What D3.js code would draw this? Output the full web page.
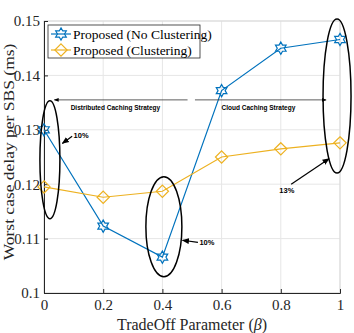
<!DOCTYPE html>
<html>
<head>
<meta charset="utf-8">
<script src="https://cdn.jsdelivr.net/npm/d3@7/dist/d3.min.js"></script>
<style>
body { margin: 0; background: #fff; }
svg { display: block; }
</style>
</head>
<body>
<div id="chart"></div>
<script>
// values
const betaValues = [0, 0.2, 0.4, 0.6, 0.8, 1];
const noClustering = [0.1300, 0.1123, 0.1066, 0.1372, 0.1450, 0.1466];
const clustering = [0.1195, 0.1176, 0.1187, 0.1250, 0.1265, 0.1276];
const xTicks = [0, 0.2, 0.4, 0.6, 0.8, 1];
const yTicks = [0.1, 0.11, 0.12, 0.13, 0.14, 0.15];
const seriesNames = ["Proposed (No Clustering)", "Proposed (Clustering)"];

const W = 354, H = 333;
const margin = { top: 21, right: 14, bottom: 40, left: 44 };
const width = W - margin.left - margin.right;
const height = H - margin.top - margin.bottom;

const blue = "#0072BD", yellow = "#EDB120";
const serif = "'Liberation Serif', 'Times New Roman', serif";
const sans = "'Liberation Sans', Arial, sans-serif";

const svg = d3.select("#chart").append("svg")
    .attr("width", W).attr("height", H);

const defs = svg.append("defs");
defs.append("marker")
    .attr("id", "arrow")
    .attr("viewBox", "0 0 10 10")
    .attr("refX", 9).attr("refY", 5)
    .attr("markerWidth", 6).attr("markerHeight", 6)
    .attr("orient", "auto-start-reverse")
    .append("path").attr("d", "M0,1 L10,5 L0,9 Z").attr("fill", "#000");

const g = svg.append("g").attr("transform", `translate(${margin.left},${margin.top})`);

const x = d3.scaleLinear().domain([0, 1]).range([0, width]);
const y = d3.scaleLinear().domain([0.1, 0.15]).range([height, 0]);

// grid
g.append("g").selectAll("line").data(xTicks).join("line")
    .attr("x1", d => x(d)).attr("x2", d => x(d))
    .attr("y1", 0).attr("y2", height)
    .attr("stroke", "#e6e6e6").attr("stroke-width", 1);
g.append("g").selectAll("line").data(yTicks).join("line")
    .attr("x1", 0).attr("x2", width)
    .attr("y1", d => y(d)).attr("y2", d => y(d))
    .attr("stroke", "#e6e6e6").attr("stroke-width", 1);

// box top/right (light)
g.append("rect").attr("x", 0).attr("y", 0).attr("width", width).attr("height", height)
    .attr("fill", "none").attr("stroke", "#d9d9d9");

// axes
const xAxis = g.append("g").attr("transform", `translate(0,${height})`)
    .call(d3.axisBottom(x).tickValues(xTicks).tickSize(-4).tickPadding(6).tickFormat(d3.format("")));
const yAxis = g.append("g")
    .call(d3.axisLeft(y).tickValues(yTicks).tickSize(-4).tickPadding(4).tickFormat(d => d === 0.1 ? "0.1" : d3.format(".2f")(d)));
[xAxis, yAxis].forEach(a => {
    a.select(".domain").attr("stroke", "#262626");
    a.selectAll(".tick line").attr("stroke", "#262626");
    a.selectAll("text").attr("font-family", serif).attr("font-size", 15).attr("fill", "#262626");
});

// hexagram symbol (MATLAB 'h')
const hexagram = {
    draw(context, size) {
        const r = Math.sqrt(size) / 2;
        const ri = r * 0.577;
        for (let i = 0; i < 12; i++) {
            const a = -Math.PI / 2 + i * Math.PI / 6;
            const rr = i % 2 === 0 ? r : ri;
            const px = rr * Math.cos(a), py = rr * Math.sin(a);
            if (i === 0) context.moveTo(px, py); else context.lineTo(px, py);
        }
        context.closePath();
    }
};
const diamond = {
    draw(context, size) {
        const r = Math.sqrt(size) / 2;
        context.moveTo(0, -r); context.lineTo(r, 0); context.lineTo(0, r); context.lineTo(-r, 0);
        context.closePath();
    }
};

const line = d3.line().x(d => x(d[0])).y(d => y(d[1]));
const series = [
    { name: seriesNames[0], values: noClustering, color: blue, sym: hexagram, size: 150 },
    { name: seriesNames[1], values: clustering, color: yellow, sym: diamond, size: 150 }
];

series.forEach(s => {
    const pts = betaValues.map((b, i) => [b, s.values[i]]);
    g.append("path").datum(pts)
        .attr("d", line).attr("fill", "none")
        .attr("stroke", s.color).attr("stroke-width", 1.2);
    g.append("g").selectAll("path").data(pts).join("path")
        .attr("transform", d => `translate(${x(d[0])},${y(d[1])})`)
        .attr("d", d3.symbol().type(s.sym).size(s.size))
        .attr("fill", "none").attr("stroke", s.color).attr("stroke-width", 1.2);
});

// legend
const leg = g.append("g").attr("transform", "translate(4,4)");
leg.append("rect").attr("width", 152).attr("height", 33)
    .attr("fill", "#fff").attr("stroke", "#262626").attr("stroke-width", 0.8);
series.forEach((s, i) => {
    const ly = 9 + i * 16;
    leg.append("line").attr("x1", 3).attr("x2", 23).attr("y1", ly).attr("y2", ly)
        .attr("stroke", s.color).attr("stroke-width", 1.2);
    leg.append("path").attr("transform", `translate(13,${ly})`)
        .attr("d", d3.symbol().type(s.sym).size(s.size))
        .attr("fill", "none").attr("stroke", s.color).attr("stroke-width", 1.2);
    leg.append("text").attr("x", 25).attr("y", ly + 4.5)
        .attr("font-family", serif).attr("font-size", 13.5).attr("fill", "#000")
        .text(s.name);
});

// strategy arrows
const arrowY = y(0.1355);
g.append("line")
    .attr("x1", x(0.485)).attr("x2", x(0.035)).attr("y1", arrowY).attr("y2", arrowY)
    .attr("stroke", "#333").attr("stroke-width", 0.8)
    .attr("marker-end", "url(#arrow)");
g.append("line")
    .attr("x1", x(0.51)).attr("x2", x(0.953)).attr("y1", arrowY).attr("y2", arrowY)
    .attr("stroke", "#333").attr("stroke-width", 0.8)
    .attr("marker-end", "url(#arrow)");
g.append("text").attr("x", x(0.09)).attr("y", arrowY + 10)
    .attr("font-family", sans).attr("font-weight", "bold").attr("font-size", 6.5)
    .text("Distributed Caching Strategy");
g.append("text").attr("x", x(0.6)).attr("y", arrowY + 10)
    .attr("font-family", sans).attr("font-weight", "bold").attr("font-size", 6.5)
    .text("Cloud Caching Strategy");

// ellipses
const ellipses = [
    { cx: 0.02, cy: 0.1245, rx: 10, ry: 59 },
    { cx: 0.405, cy: 0.1122, rx: 18, ry: 50 },
    { cx: 0.99, cy: 0.1362, rx: 14, ry: 77 }
];
g.append("g").selectAll("ellipse").data(ellipses).join("ellipse")
    .attr("cx", d => x(d.cx)).attr("cy", d => y(d.cy))
    .attr("rx", d => d.rx).attr("ry", d => d.ry)
    .attr("fill", "none").attr("stroke", "#000").attr("stroke-width", 1.5);

// percentage callouts
const callouts = [
    { text: "10%", tx: 0.1, ty: 0.1285, x1: 0.095, y1: 0.1288, x2: 0.062, y2: 0.1275 },
    { text: "10%", tx: 0.525, ty: 0.1088, x1: 0.52, y1: 0.1093, x2: 0.468, y2: 0.1097 },
    { text: "13%", tx: 0.795, ty: 0.1183, x1: 0.835, y1: 0.1200, x2: 0.963, y2: 0.1247 }
];
callouts.forEach(c => {
    g.append("line")
        .attr("x1", x(c.x1)).attr("y1", y(c.y1)).attr("x2", x(c.x2)).attr("y2", y(c.y2))
        .attr("stroke", "#000").attr("stroke-width", 1.2).attr("marker-end", "url(#arrow)");
    g.append("text").attr("x", x(c.tx)).attr("y", y(c.ty))
        .attr("font-family", sans).attr("font-weight", "bold").attr("font-size", 7.5)
        .text(c.text);
});

// axis labels
svg.append("text")
    .attr("transform", `translate(14,${margin.top + height / 2 - 5}) rotate(-90) scale(1,0.85)`)
    .attr("text-anchor", "middle")
    .attr("font-family", serif).attr("font-size", 17.5).attr("fill", "#262626")
    .text("Worst case delay per SBS (ms)");
const xl = svg.append("text")
    .attr("x", margin.left + width / 2).attr("y", H - 3)
    .attr("text-anchor", "middle")
    .attr("font-family", serif).attr("font-size", 16).attr("fill", "#262626");
xl.append("tspan").text("TradeOff Parameter (");
xl.append("tspan").attr("font-style", "italic").text("β");
xl.append("tspan").text(")");
</script>
</body>
</html>
